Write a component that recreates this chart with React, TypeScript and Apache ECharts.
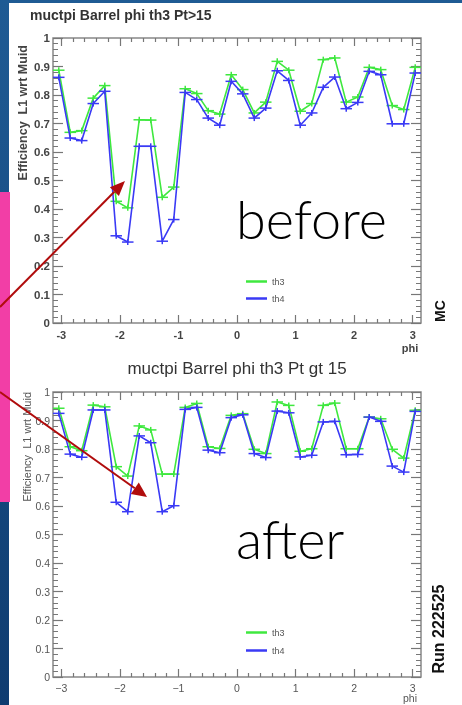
import React, { useEffect, useRef } from "react";
import * as echarts from "echarts";

// phi bin centres (32 bins over -pi..pi)
const PHI = [
  -3.043, -2.847, -2.651, -2.454, -2.258, -2.062, -1.865, -1.669,
  -1.473, -1.276, -1.080, -0.884, -0.687, -0.491, -0.295, -0.098,
  0.098, 0.295, 0.491, 0.687, 0.884, 1.080, 1.276, 1.473,
  1.669, 1.865, 2.062, 2.258, 2.454, 2.651, 2.847, 3.043,
];
const BIN_W = 0.19635;

// "before" (MC) plot
const TOP_TH3 = [
  0.887, 0.669, 0.675, 0.789, 0.833, 0.427, 0.404, 0.713,
  0.712, 0.441, 0.477, 0.822, 0.805, 0.745, 0.733, 0.871,
  0.819, 0.737, 0.775, 0.918, 0.887, 0.743, 0.770, 0.924,
  0.930, 0.775, 0.793, 0.897, 0.889, 0.763, 0.749, 0.897,
];
const TOP_TH4 = [
  0.862, 0.649, 0.640, 0.770, 0.813, 0.306, 0.284, 0.620,
  0.620, 0.287, 0.363, 0.809, 0.784, 0.719, 0.694, 0.848,
  0.804, 0.719, 0.754, 0.885, 0.851, 0.694, 0.737, 0.827,
  0.863, 0.752, 0.774, 0.883, 0.871, 0.699, 0.699, 0.877,
];
// "after" (Run 222525) plot
const BOT_TH3 = [
  0.943, 0.808, 0.794, 0.954, 0.948, 0.738, 0.705, 0.881,
  0.867, 0.712, 0.712, 0.946, 0.960, 0.808, 0.802, 0.918,
  0.924, 0.799, 0.784, 0.965, 0.953, 0.792, 0.801, 0.953,
  0.961, 0.801, 0.801, 0.912, 0.906, 0.799, 0.768, 0.936,
];
const BOT_TH4 = [
  0.925, 0.782, 0.771, 0.937, 0.937, 0.613, 0.580, 0.846,
  0.822, 0.580, 0.601, 0.939, 0.946, 0.796, 0.787, 0.910,
  0.920, 0.784, 0.770, 0.933, 0.927, 0.772, 0.778, 0.895,
  0.897, 0.780, 0.781, 0.912, 0.897, 0.740, 0.719, 0.932,
];

const X_MAJOR = [-3, -2, -1, 0, 1, 2, 3];
const X_MINOR = [
  -2.8, -2.6, -2.4, -2.2, -1.8, -1.6, -1.4, -1.2, -0.8, -0.6, -0.4, -0.2,
  0.2, 0.4, 0.6, 0.8, 1.2, 1.4, 1.6, 1.8, 2.2, 2.4, 2.6, 2.8,
];
const SERIES_NAMES = ["th3", "th4"];

const GREEN = "#3fe83f";
const BLUE = "#3a3af5";
const FONT = "Liberation Sans, Arial, sans-serif";
const TICK = "#777";

function xAxes(grid: number, bold: boolean) {
  const base = {
    type: "value",
    gridIndex: grid,
    min: -Math.PI,
    max: Math.PI,
    splitLine: { show: false },
    axisLine: { show: false, onZero: false },
  };
  return [
    {
      ...base,
      position: "bottom",
      axisTick: { inside: true, length: 8, customValues: X_MAJOR, lineStyle: { color: TICK, width: 1.2 } },
      axisLabel: {
        customValues: X_MAJOR,
        margin: bold ? 6 : 5,
        fontSize: bold ? 11 : 10.5,
        fontWeight: bold ? "bold" : "normal",
        color: bold ? "#444" : "#555",
        fontFamily: FONT,
        formatter: (v: number) => (bold ? String(v) : String(v).replace("-", "\u2212")),
      },
    },
    {
      ...base,
      position: "bottom",
      axisTick: { inside: true, length: 4, customValues: X_MINOR, lineStyle: { color: TICK, width: 1.2 } },
      axisLabel: { show: false },
    },
    {
      ...base,
      position: "top",
      axisTick: { inside: true, length: 8, customValues: X_MAJOR, lineStyle: { color: TICK, width: 1.2 } },
      axisLabel: { show: false },
    },
    {
      ...base,
      position: "top",
      axisTick: { inside: true, length: 4, customValues: X_MINOR, lineStyle: { color: TICK, width: 1.2 } },
      axisLabel: { show: false },
    },
  ];
}

function yAxes(grid: number, bold: boolean) {
  const base = {
    type: "value",
    gridIndex: grid,
    min: 0,
    max: 1,
    interval: 0.1,
    splitLine: { show: false },
    axisLine: { show: false, onZero: false },
    axisTick: { inside: true, length: 10, lineStyle: { color: TICK, width: 1.2 } },
    minorTick: { show: true, splitNumber: 5, length: 5, lineStyle: { color: TICK, width: 1 } },
    minorSplitLine: { show: false },
  };
  return [
    {
      ...base,
      position: "left",
      axisLabel: {
        margin: 3,
        fontSize: bold ? 11.5 : 10.5,
        fontWeight: bold ? "bold" : "normal",
        color: bold ? "#444" : "#555",
        fontFamily: FONT,
      },
    },
    { ...base, position: "right", axisLabel: { show: false } },
  ];
}

function errorSeries(vals: number[], color: string, xi: number, yi: number) {
  return {
    type: "custom",
    xAxisIndex: xi,
    yAxisIndex: yi,
    silent: true,
    encode: { x: 0, y: 1 },
    data: PHI.map((p, i) => [p, vals[i]]),
    z: color === BLUE ? 4 : 3,
    renderItem: (params: any, api: any) => {
      const pt = api.coord([api.value(0), api.value(1)]);
      const half = api.size([BIN_W, 0])[0] / 2;
      const st = { stroke: color, lineWidth: 1.5 };
      return {
        type: "group",
        children: [
          { type: "line", shape: { x1: pt[0] - half, y1: pt[1], x2: pt[0] + half, y2: pt[1] }, style: st },
          { type: "line", shape: { x1: pt[0], y1: pt[1] - 3, x2: pt[0], y2: pt[1] + 3 }, style: st },
        ],
      };
    },
  };
}

function lineSeries(name: string, vals: number[], color: string, xi: number, yi: number) {
  return {
    type: "line",
    name,
    xAxisIndex: xi,
    yAxisIndex: yi,
    data: PHI.map((p, i) => [p, vals[i]]),
    showSymbol: false,
    symbol: "none",
    lineStyle: { color, width: 1.6 },
    itemStyle: { color },
    z: color === BLUE ? 4 : 3,
  };
}

export default function App() {
  const ref = useRef<HTMLDivElement>(null);

  useEffect(() => {
    if (!ref.current) return;
    const chart = echarts.init(ref.current, null, { renderer: "svg" });

    const textStyle = (extra: any) => ({ fontFamily: FONT, fill: "#222", ...extra });

    const option: any = {
      animation: false,
      backgroundColor: "transparent",
      grid: [
        { left: 53, top: 38, width: 368, height: 285, show: true, borderColor: "#888", borderWidth: 1.5, backgroundColor: "transparent" },
        { left: 53, top: 392, width: 368, height: 285, show: true, borderColor: "#888", borderWidth: 1.5, backgroundColor: "transparent" },
      ],
      xAxis: [...xAxes(0, true), ...xAxes(1, false)],
      yAxis: [...yAxes(0, true), ...yAxes(1, false)],
      legend: [
        {
          data: SERIES_NAMES,
          orient: "vertical",
          left: 241,
          top: 271,
          icon: "rect",
          itemWidth: 21,
          itemHeight: 2.5,
          itemGap: 6,
          selectedMode: false,
          textStyle: { fontSize: 9, color: "#555", fontFamily: FONT, lineHeight: 11 },
        },
        {
          data: SERIES_NAMES,
          orient: "vertical",
          left: 241,
          top: 622,
          icon: "rect",
          itemWidth: 21,
          itemHeight: 2.5,
          itemGap: 7,
          selectedMode: false,
          textStyle: { fontSize: 9, color: "#555", fontFamily: FONT, lineHeight: 11 },
        },
      ],
      graphic: [
        // slide background
        {
          type: "rect",
          z: -20,
          shape: { x: 0, y: 0, width: 462, height: 705 },
          style: {
            fill: new echarts.graphic.LinearGradient(0, 0, 0, 1, [
              { offset: 0, color: "#1f5b94" },
              { offset: 1, color: "#0f3c70" },
            ]),
          },
        },
        { type: "rect", z: -19, shape: { x: 9, y: 3, width: 453, height: 702 }, style: { fill: "#ffffff" } },
        { type: "rect", z: -18, shape: { x: 0, y: 192, width: 10, height: 310 }, style: { fill: "#f23ea6" } },
        // titles
        { type: "text", z: 50, x: 30, y: 15, style: textStyle({ text: "muctpi Barrel phi th3 Pt>15", fontSize: 14, fontWeight: "bold", fill: "#333", verticalAlign: "middle" }) },
        { type: "text", z: 50, x: 237, y: 368, style: textStyle({ text: "muctpi Barrel phi th3 Pt gt 15", fontSize: 17, fill: "#333", align: "center", verticalAlign: "middle" }) },
        // axis titles
        { type: "text", z: 50, x: 23, y: 45, rotation: Math.PI / 2, style: textStyle({ text: "Efficiency  L1 wrt Muid", fontSize: 12.5, fontWeight: "bold", fill: "#444", align: "right", verticalAlign: "middle" }) },
        { type: "text", z: 50, x: 27, y: 392, rotation: Math.PI / 2, style: textStyle({ text: "Efficiency  L1 wrt Muid", fontSize: 11, fill: "#555", align: "right", verticalAlign: "middle" }) },
        { type: "text", z: 50, x: 410, y: 348, style: textStyle({ text: "phi", fontSize: 11, fontWeight: "bold", fill: "#444", align: "center", verticalAlign: "middle" }) },
        { type: "text", z: 50, x: 410, y: 698, style: textStyle({ text: "phi", fontSize: 10.5, fill: "#555", align: "center", verticalAlign: "middle" }) },
        // side labels
        { type: "text", z: 50, x: 440, y: 311, rotation: Math.PI / 2, style: textStyle({ text: "MC", fontSize: 14, fontWeight: "bold", fill: "#111", align: "center", verticalAlign: "middle" }) },
        { type: "text", z: 50, x: 438, y: 629, rotation: Math.PI / 2, style: textStyle({ text: "Run 222525", fontSize: 16, fontWeight: "bold", fill: "#111", align: "center", verticalAlign: "middle" }) },
        // big annotations
        { type: "text", z: 50, x: 236, y: 218, style: { text: "before", fontFamily: "Lato, Open Sans, sans-serif", fontWeight: 300, fontSize: 54, fill: "#000", verticalAlign: "middle" } },
        { type: "text", z: 50, x: 236, y: 538, style: { text: "after", fontFamily: "Lato, Open Sans, sans-serif", fontWeight: 300, fontSize: 54, fill: "#000", verticalAlign: "middle" } },
        // arrows
        { type: "line", z: 60, shape: { x1: 0, y1: 307, x2: 114.4, y2: 191.7 }, style: { stroke: "#b00c0c", lineWidth: 2 } },
        { type: "polygon", z: 60, shape: { points: [[125, 181], [118.9, 196.1], [109.9, 187.3]] }, style: { fill: "#b00c0c" } },
        { type: "line", z: 60, shape: { x1: 0, y1: 392, x2: 134.8, y2: 488.3 }, style: { stroke: "#b00c0c", lineWidth: 2 } },
        { type: "polygon", z: 60, shape: { points: [[147, 497], [130.8, 494.1], [138.8, 482.6]] }, style: { fill: "#b00c0c" } },
      ],
      series: [
        lineSeries("th3", TOP_TH3, GREEN, 0, 0),
        lineSeries("th4", TOP_TH4, BLUE, 0, 0),
        errorSeries(TOP_TH3, GREEN, 0, 0),
        errorSeries(TOP_TH4, BLUE, 0, 0),
        lineSeries("th3", BOT_TH3, GREEN, 4, 2),
        lineSeries("th4", BOT_TH4, BLUE, 4, 2),
        errorSeries(BOT_TH3, GREEN, 4, 2),
        errorSeries(BOT_TH4, BLUE, 4, 2),
      ],
    };

    chart.setOption(option);
    return () => chart.dispose();
  }, []);

  return (
    <div
      ref={ref}
      style={{ position: "fixed", left: 0, top: 0, width: 462, height: 705 }}
    />
  );
}
